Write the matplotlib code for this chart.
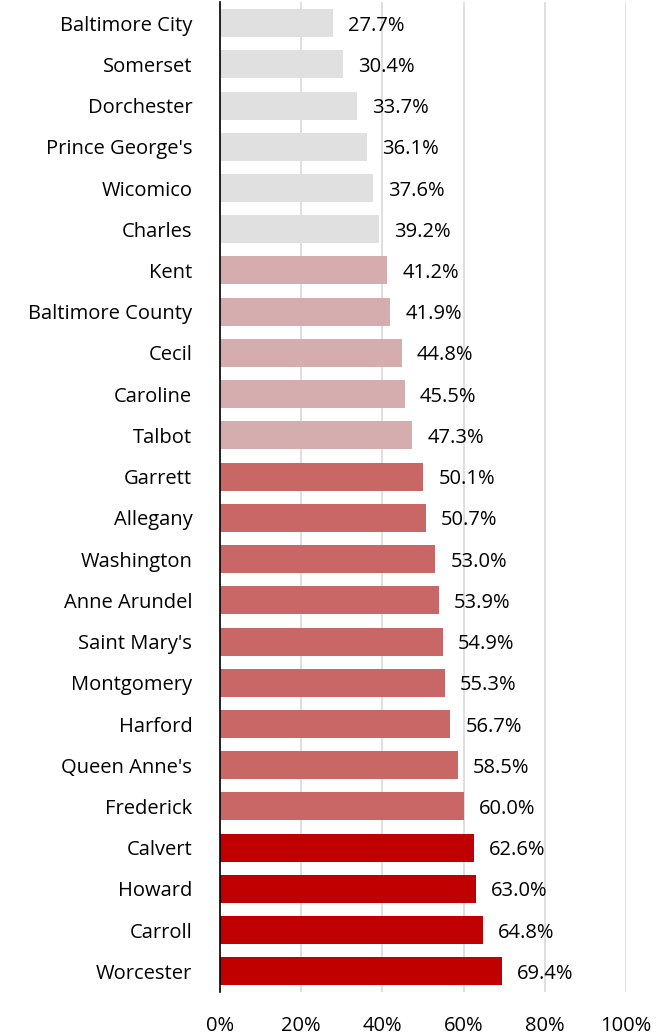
import matplotlib
matplotlib.use('Agg')
import matplotlib.pyplot as plt

counties = ['Baltimore City', 'Somerset', 'Dorchester', "Prince George's", 'Wicomico',
            'Charles', 'Kent', 'Baltimore County', 'Cecil', 'Caroline', 'Talbot',
            'Garrett', 'Allegany', 'Washington', 'Anne Arundel', "Saint Mary's",
            'Montgomery', 'Harford', "Queen Anne's", 'Frederick', 'Calvert', 'Howard',
            'Carroll', 'Worcester']
values = [27.7, 30.4, 33.7, 36.1, 37.6, 39.2, 41.2, 41.9, 44.8, 45.5, 47.3,
          50.1, 50.7, 53.0, 53.9, 54.9, 55.3, 56.7, 58.5, 60.0, 62.6, 63.0, 64.8, 69.4]
xticks = [0, 20, 40, 60, 80, 100]


def bar_color(v):
    if v < 40:
        return '#E0E0E0'
    if v < 50:
        return '#D6ADAE'
    if v < 62:
        return '#C96666'
    return '#C00000'


plt.rcParams['font.family'] = ['Open Sans', 'DejaVu Sans']
FS = 14.5

fig = plt.figure(figsize=(6.71, 10.34), dpi=100)
ax = fig.add_axes([0.328, 0.0406, 0.605, 0.957])

y = list(range(len(counties)))
ax.barh(y, values, height=0.68, color=[bar_color(v) for v in values], zorder=3)
for yi, v in zip(y, values):
    ax.text(v + 3.7, yi, f'{v:.1f}%', va='center_baseline', ha='left', fontsize=FS, color='black')

ax.set_ylim(len(counties) - 0.5, -0.5)
ax.set_xlim(0, 100)
ax.set_yticks(y)
ax.set_yticklabels(counties, fontsize=FS)
ax.set_xticks(xticks)
ax.set_xticklabels([f'{t}%' for t in xticks], fontsize=FS)
ax.tick_params(length=0)
ax.tick_params(axis='y', pad=20)
ax.tick_params(axis='x', pad=17)
ax.xaxis.grid(True, color='#D9D9D9', linewidth=1.2, zorder=0)
for s in ['top', 'right', 'bottom']:
    ax.spines[s].set_visible(False)
ax.spines['left'].set_color('black')
ax.spines['left'].set_linewidth(1.2)
ax.spines['left'].set_zorder(4)

fig.savefig('out.png', dpi=100)
